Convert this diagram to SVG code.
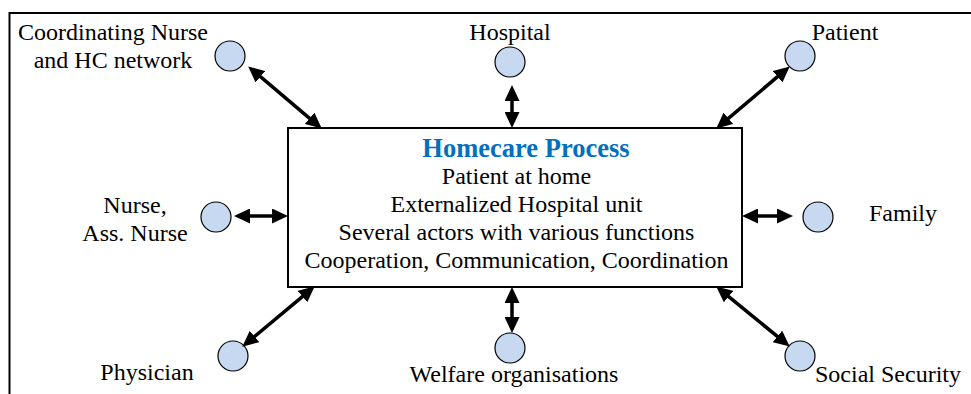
<svg xmlns="http://www.w3.org/2000/svg" width="971" height="394" viewBox="0 0 971 394">
<style>
text{font-family:"Liberation Serif","Times New Roman",serif;font-size:24px;fill:#000}
.t{text-anchor:middle}
.title{font-weight:bold;fill:#0070c0;font-size:26.5px}
.node{fill:#c6d9f1;stroke:#000;stroke-width:1.2}
.c{stroke:#000;stroke-width:3.5;fill:none;marker-start:url(#ah);marker-end:url(#ah)}
</style>
<defs>
<marker id="ah" viewBox="0 0 16 15" refX="7" refY="7.5" markerWidth="16" markerHeight="15" markerUnits="userSpaceOnUse" orient="auto-start-reverse">
<path d="M0,0 L16,7.5 L0,15 z" fill="#000"/>
</marker>
</defs>
<rect width="971" height="394" fill="#fff"/>
<path d="M9.5,400 V13 H980" fill="none" stroke="#000" stroke-width="2"/>
<g id="process">
<rect x="288" y="128" width="454" height="159" fill="#fff" stroke="#000" stroke-width="2"/>
<text class="t title" x="526" y="157">Homecare Process</text>
<text class="t" x="516.5" y="184">Patient at home</text>
<text class="t" x="516.5" y="212">Externalized Hospital unit</text>
<text class="t" x="516.5" y="240">Several actors with various functions</text>
<text class="t" x="516.5" y="268">Cooperation, Communication, Coordination</text>
</g>
<g id="coordinating">
<circle class="node" cx="230" cy="56" r="15"/>
<text class="t" x="113" y="40">Coordinating Nurse</text>
<text class="t" x="113" y="68">and HC network</text>
</g>
<g id="hospital">
<circle class="node" cx="510" cy="62" r="15"/>
<text class="t" x="510" y="40">Hospital</text>
</g>
<g id="patient">
<circle class="node" cx="800" cy="56" r="15"/>
<text class="t" x="845" y="40">Patient</text>
</g>
<g id="nurse">
<circle class="node" cx="216" cy="217" r="15"/>
<text class="t" x="135" y="213">Nurse,</text>
<text class="t" x="135" y="241">Ass. Nurse</text>
</g>
<g id="family">
<circle class="node" cx="818" cy="217" r="15"/>
<text class="t" x="903" y="221">Family</text>
</g>
<g id="physician">
<circle class="node" cx="233" cy="356" r="15"/>
<text class="t" x="147" y="380">Physician</text>
</g>
<g id="welfare">
<circle class="node" cx="510" cy="348" r="15"/>
<text class="t" x="514" y="382">Welfare organisations</text>
</g>
<g id="social">
<circle class="node" cx="800" cy="356" r="15"/>
<text class="t" x="888" y="382">Social Security</text>
</g>
<g id="connectors">
<line class="c" x1="255.1" y1="72.2" x2="314.9" y2="122.8"/>
<line class="c" x1="512" y1="94" x2="512" y2="119"/>
<line class="c" x1="782.9" y1="72.2" x2="723.1" y2="122.8"/>
<line class="c" x1="243" y1="216" x2="279" y2="216"/>
<line class="c" x1="751" y1="216" x2="784" y2="216"/>
<line class="c" x1="307.8" y1="292.1" x2="249.2" y2="340.9"/>
<line class="c" x1="512" y1="296" x2="512" y2="324"/>
<line class="c" x1="723.2" y1="292.1" x2="782.8" y2="340.9"/>
</g>
</svg>
